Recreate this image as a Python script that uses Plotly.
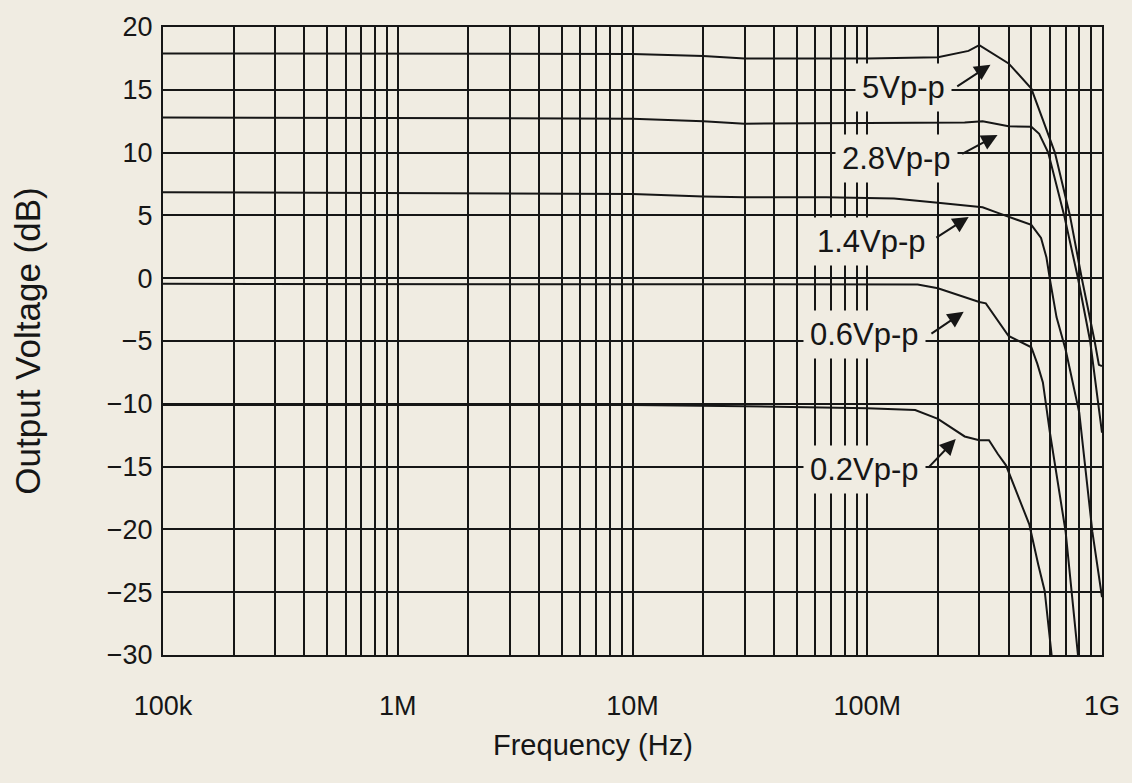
import plotly.graph_objects as go

# ---------------- data ----------------
f_5v = [1e5, 1e6, 1e7, 2e7, 3e7, 1e8, 2e8, 2.7e8, 3e8, 4e8, 5e8, 5.6e8, 6.3e8, 7.3e8, 8.2e8, 9.3e8, 9.7e8, 1e9]
db_5v = [17.9, 17.9, 17.85, 17.7, 17.5, 17.5, 17.6, 18.1, 18.55, 17.1, 15.1, 12.6, 10.0, 5.0, 0.0, -5.0, -6.9, -7.0]

f_28v = [1e5, 1e6, 1e7, 2e7, 3e7, 1e8, 2e8, 2.6e8, 3.1e8, 4e8, 5e8, 5.4e8, 5.9e8, 6.9e8, 7.9e8, 8.9e8, 1e9]
db_28v = [12.8, 12.75, 12.7, 12.5, 12.3, 12.35, 12.4, 12.4, 12.5, 12.1, 12.05, 11.5, 10.0, 5.0, 0.0, -5.0, -12.3]

f_14v = [1e5, 1e6, 1e7, 2e7, 3e7, 6.7e7, 1.3e8, 2e8, 3e8, 3.1e8, 3.6e8, 4e8, 5e8, 5.5e8, 5.8e8, 6e8, 6.4e8, 7e8, 7.5e8, 8e8, 9.1e8, 1e9]
db_14v = [6.85, 6.8, 6.7, 6.5, 6.45, 6.45, 6.35, 6.0, 5.7, 5.65, 5.2, 4.9, 4.25, 3.2, 1.65, -0.1, -3.1, -5.7, -8.3, -10.7, -20.2, -25.4]

f_06v = [1e5, 1e6, 1e7, 1e8, 1.64e8, 2e8, 2.5e8, 3e8, 3.2e8, 4e8, 5e8, 5.3e8, 5.6e8, 5.85e8, 6e8, 7e8, 7.9e8]
db_06v = [-0.45, -0.45, -0.45, -0.45, -0.5, -0.8, -1.4, -1.9, -2.0, -4.6, -5.5, -6.8, -8.3, -10.9, -12.3, -20.2, -30.0]

f_02v = [1e5, 1e6, 1e7, 3e7, 1e8, 1.6e8, 2e8, 2.6e8, 3e8, 3.3e8, 3.6e8, 3.9e8, 4.9e8, 5.35e8, 5.7e8, 6.1e8]
db_02v = [-10.1, -10.1, -10.1, -10.2, -10.35, -10.5, -11.2, -12.6, -12.9, -12.9, -14.0, -14.9, -19.6, -22.8, -24.9, -30.0]

series_freqs = [f_5v, f_28v, f_14v, f_06v, f_02v]
series_db = [db_5v, db_28v, db_14v, db_06v, db_02v]
series_names = ["5Vp-p", "2.8Vp-p", "1.4Vp-p", "0.6Vp-p", "0.2Vp-p"]

x_tick_vals = [1e5, 1e6, 1e7, 1e8, 1e9]
x_tick_text = ["100k", "1M", "10M", "100M", "1G"]
y_tick_vals = [20, 15, 10, 5, 0, -5, -10, -15, -20, -25, -30]

# label placement (log10 Hz, dB): text centre, arrow tail, arrow tip
label_pos = [(8.153, 15.2), (8.123, 9.53), (8.017, 2.91), (7.987, -4.49), (7.987, -15.2)]
arrow_tail = [(8.377, 15.2), (8.398, 9.84), (8.288, 3.15), (8.267, -4.49), (8.254, -15.2)]
arrow_tip = [(8.525, 17.0), (8.555, 11.4), (8.432, 4.88), (8.411, -2.68), (8.377, -12.8)]

BG = "#f0ece2"
INK = "#161616"
FONT = "Liberation Sans, Arial, Helvetica, sans-serif"

fig = go.Figure()
for fr, db, nm in zip(series_freqs, series_db, series_names):
    fig.add_trace(go.Scatter(x=fr, y=db, mode="lines", name=nm,
                             line=dict(color=INK, width=2), showlegend=False,
                             hoverinfo="skip"))

minor_vals = [m * 10 ** e for e in range(5, 9) for m in range(2, 10)]

annotations = []
for nm, (tx, ty), (ax, ay), (hx, hy) in zip(series_names, label_pos, arrow_tail, arrow_tip):
    annotations.append(dict(x=hx, y=hy, ax=ax, ay=ay, xref="x", yref="y", axref="x", ayref="y",
                            text="", showarrow=True, arrowhead=2, arrowsize=1.6, arrowwidth=2,
                            arrowcolor=INK, standoff=0))
    annotations.append(dict(x=tx, y=ty, xref="x", yref="y", text=nm, showarrow=False,
                            font=dict(family=FONT, size=31, color=INK),
                            bgcolor=BG, borderpad=6))

annotations.append(dict(x=(595 - 163) / 944, y=-91 / 635, xref="paper", yref="paper",
                        text="Frequency (Hz)", showarrow=False, yanchor="middle",
                        font=dict(family=FONT, size=29, color=INK)))

fig.update_layout(
    width=1132, height=783,
    margin=dict(l=163, r=25, t=20, b=128),
    paper_bgcolor=BG, plot_bgcolor=BG,
    font=dict(family=FONT, size=26, color=INK),
    annotations=annotations,
    hovermode=False,
    xaxis=dict(type="log", range=[5, 9], tickvals=x_tick_vals, ticktext=x_tick_text,
               showgrid=True, gridcolor=INK, gridwidth=2,
               minor=dict(tickvals=minor_vals, showgrid=True, gridcolor=INK, gridwidth=2, ticks=""),
               showline=True, mirror=True, linecolor=INK, linewidth=2,
               ticks="", ticklabelstandoff=26, tickfont=dict(size=27)),
    yaxis=dict(range=[-30, 20], tickvals=y_tick_vals,
               showgrid=True, gridcolor=INK, gridwidth=2, zeroline=False,
               showline=True, mirror=True, linecolor=INK, linewidth=2,
               ticks="", ticklabelstandoff=3, tickfont=dict(size=27),
               title=dict(text="Output Voltage (dB)", font=dict(size=35), standoff=56)),
)

post = ("document.body.style.margin='0';document.body.style.padding='0';"
        "document.body.style.background='" + BG + "';"
        "document.documentElement.style.background='" + BG + "';")
fig.write_html("out.html", post_script=post, config={"displayModeBar": False})
